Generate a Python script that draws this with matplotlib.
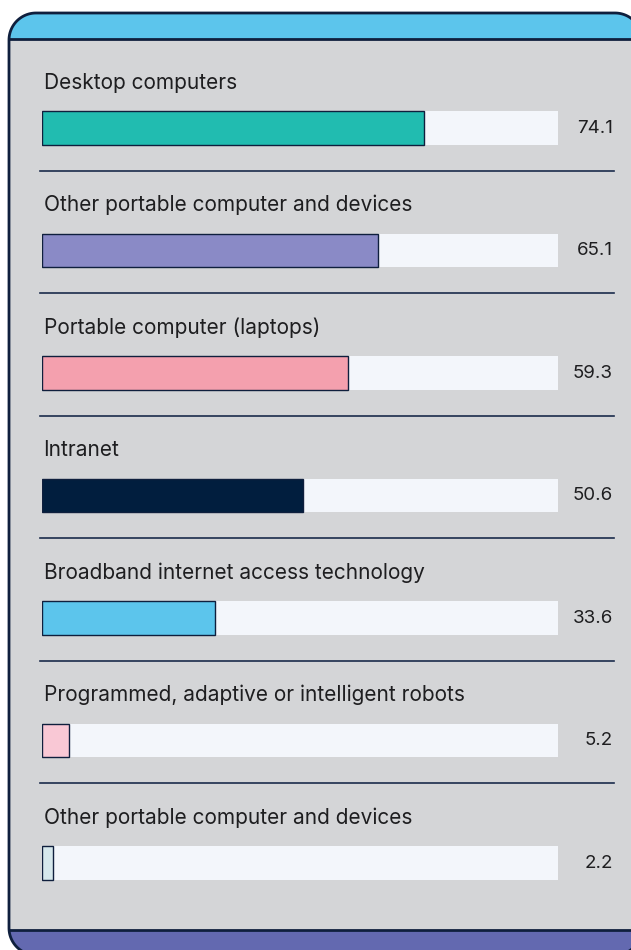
import matplotlib
matplotlib.use("Agg")
import numpy as np
import matplotlib.pyplot as plt
from matplotlib.patches import Polygon, Rectangle

categories = [
    "Desktop computers",
    "Other portable computer and devices",
    "Portable computer (laptops)",
    "Intranet",
    "Broadband internet access technology",
    "Programmed, adaptive or intelligent robots",
    "Other portable computer and devices",
]
values = [74.1, 65.1, 59.3, 50.6, 33.6, 5.2, 2.2]
bar_colors = ["#21BCB0", "#8A8AC6", "#F4A0AE", "#011E3E", "#5CC5EC", "#F9C8D5", "#D6E8EC"]

NAVY = "#0F1F3D"
GREY = "#D4D5D7"
TRACK = "#F3F6FB"
TOP_BAND = "#5CC5EC"
BOTTOM_BAND = "#6369B0"
TEXT = "#1E1E20"

plt.rcParams["font.family"] = ["Inter", "DejaVu Sans"]

W, H = 631, 950


def rounded_rect(x0, y0, x1, y1, r, steps=24):
    # straight-segment outline so clipping at the figure edge stays clean
    pts = []
    corners = [(x1 - r, y1 - r, 0), (x0 + r, y1 - r, 90),
               (x0 + r, y0 + r, 180), (x1 - r, y0 + r, 270)]
    for cx, cy, a0 in corners:
        t = np.radians(np.linspace(a0, a0 + 90, steps))
        pts.extend(zip(cx + r * np.cos(t), cy + r * np.sin(t)))
    return np.array(pts)


fig = plt.figure(figsize=(W / 100, H / 100), dpi=100)
fig.patch.set_facecolor("white")

# card background, pixel coords with y measured upward from the bottom
bg = fig.add_axes([0, 0, 1, 1])
bg.set_xlim(0, W)
bg.set_ylim(0, H)
bg.axis("off")

outline = rounded_rect(9, -5, 642, H - 13, 27)
card = Polygon(outline, closed=True, facecolor=GREY, edgecolor="none", zorder=1)
bg.add_patch(card)
top = Rectangle((0, H - 39), W, 40, facecolor=TOP_BAND, edgecolor="none", zorder=2)
top.set_clip_path(card)
bg.add_patch(top)
bottom = Rectangle((0, -20), W, H - 930 + 20, facecolor=BOTTOM_BAND, edgecolor="none", zorder=2)
bottom.set_clip_path(card)
bg.add_patch(bottom)
for yy in (H - 39, H - 930):
    ln, = bg.plot([0, W], [yy, yy], color=NAVY, lw=2, zorder=3)
    ln.set_clip_path(card)
bg.add_patch(Polygon(outline, closed=True, facecolor="none", edgecolor=NAVY,
                     lw=2, zorder=4))

# bars
n = len(values)
ax = fig.add_axes([42 / W, (H - 924.25) / H, 516 / W, 857.5 / H])
ax.set_xlim(0, 100)
ax.set_ylim(n - 0.5, -0.5)
ax.axis("off")
ax.patch.set_alpha(0)

ys = list(range(n))
ax.barh(ys, [100] * n, height=0.27, color=TRACK, edgecolor="none", zorder=1)
ax.barh(ys, values, height=0.27, color=bar_colors, edgecolor=NAVY, linewidth=1, zorder=2)

tr = ax.get_yaxis_transform()
for i, (cat, val) in enumerate(zip(categories, values)):
    ax.text(0.003, i - 0.322, cat, transform=tr, ha="left", va="baseline",
            fontsize=15, color=TEXT)
    ax.text(1.106, i, f"{val}", transform=tr, ha="right", va="center",
            fontsize=13.5, color=TEXT)
    if i < n - 1:
        ax.plot([-0.004, 1.109], [i + 0.347, i + 0.347], transform=tr,
                color="#1B2B4B", lw=1.2, clip_on=False)

fig.savefig("out.png", dpi=100)
